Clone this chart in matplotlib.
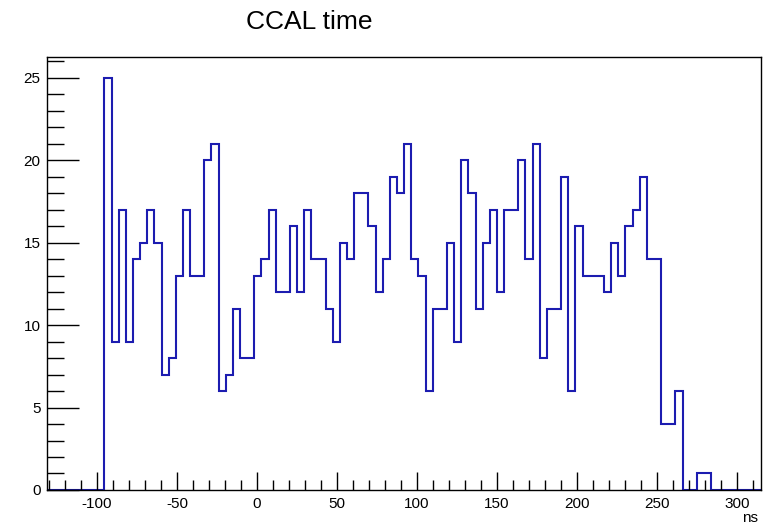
import matplotlib.pyplot as plt
from matplotlib.ticker import MultipleLocator
import numpy as np

plt.rcParams['font.family'] = ['Liberation Sans', 'DejaVu Sans']
plt.rcParams['axes.unicode_minus'] = False

# histogram binning (ns)
x_lo = -131.0
x_hi = 315.0
n_bins = 100

# entries per bin
counts = [0, 0, 0, 0, 0, 0, 0, 0,
          25, 9, 17, 9, 14, 15, 17, 15, 7, 8, 13, 17, 13, 13, 20, 21, 6, 7,
          11, 8, 8, 13,
          14, 17, 12, 12, 16, 12, 17, 14, 14, 11, 9, 15, 14, 18, 18, 16, 12,
          14, 19, 18, 21, 14, 13,
          6, 11, 11, 15, 9, 20, 18, 11, 15, 17, 12, 17, 17, 20, 14, 21, 8,
          11, 11, 19, 6, 16,
          13, 13, 13, 12, 15, 13, 16, 17, 19, 14, 14, 4, 4, 6, 0, 0, 1, 1,
          0, 0, 0, 0, 0, 0, 0]

title = "CCAL time"
x_title = "ns"

edges = np.linspace(x_lo, x_hi, n_bins + 1)

fig = plt.figure(figsize=(7.67, 5.28), dpi=100)
ax = fig.add_axes([0.0617, 0.072, 0.9305, 0.82])

ax.stairs(counts, edges, color='#1c1cb0', lw=1.5)

ax.set_xlim(x_lo, x_hi)
ax.set_ylim(0, 1.05 * max(counts))

# ticks inside the frame, only on left and bottom
ax.xaxis.set_major_locator(MultipleLocator(50))
ax.xaxis.set_minor_locator(MultipleLocator(10))
ax.yaxis.set_major_locator(MultipleLocator(5))
ax.yaxis.set_minor_locator(MultipleLocator(1))
ax.tick_params(axis='x', which='major', direction='in', length=13, width=1,
               labelsize=11, pad=5)
ax.tick_params(axis='x', which='minor', direction='in', length=7, width=1)
ax.tick_params(axis='y', which='major', direction='in', length=23, width=1,
               labelsize=11, pad=5)
ax.tick_params(axis='y', which='minor', direction='in', length=12, width=1)
for s in ax.spines.values():
    s.set_linewidth(1)

fig.text(0.403, 1 - 22 / 528, title, fontsize=19, ha='center', va='center')
fig.text(758 / 767, 1 - 518 / 528, x_title, fontsize=11, ha='right', va='center')

fig.savefig('out.png', dpi=100)
